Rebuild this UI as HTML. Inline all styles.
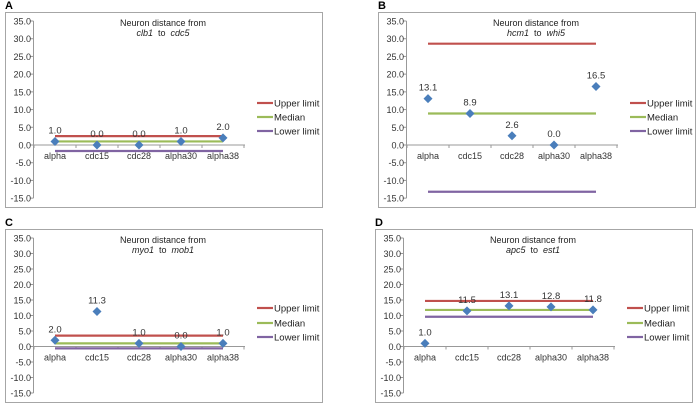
<!DOCTYPE html>
<html><head><meta charset="utf-8"><style>
body{margin:0;background:#fff;width:699px;height:406px;overflow:hidden}
svg{display:block;font-family:"Liberation Sans",sans-serif}
</style></head><body>
<svg id="s" width="699" height="406"></svg>
<script>
const categories=["alpha","cdc15","cdc28","alpha30","alpha38"];
const tickLabels=["35.0","30.0","25.0","20.0","15.0","10.0","5.0","0.0","-5.0","-10.0","-15.0"];
const valuesA=[1.0,0.0,0.0,1.0,2.0];
const valuesB=[13.1,8.9,2.6,0.0,16.5];
const valuesC=[2.0,11.3,1.0,0.0,1.0];
const valuesD=[1.0,11.5,13.1,12.8,11.8];
const limitsA=[2.5,1.0,-1.7];
const limitsB=[28.6,8.9,-13.2];
const limitsC=[3.5,1.0,-0.6];
const limitsD=[14.7,11.8,9.6];
const genesA=["clb1","cdc5"],genesB=["hcm1","whi5"],genesC=["myo1","mob1"],genesD=["apc5","est1"];
const NS="http://www.w3.org/2000/svg";
const svg=document.getElementById('s');
function mk(t,a,p){const e=document.createElementNS(NS,t);for(const k in a)e.setAttribute(k,a[k]);(p||svg).appendChild(e);return e;}
const limColors=["#c0504d","#9bbb59","#8064a2"];
const limNames=["Upper limit","Median","Lower limit"];
function panel(letter,dx,boxTop,boxBot,y35,y0,vals,lims,genes){
  const g=mk('g',{});
  
  
  const unit=(y0-y35)/35;
  const y=v=>y0-v*unit;
  const x=i=>dx+55+i*42;
  const lab=mk('text',{x:dx+5,y:boxTop-3,'font-size':11,'font-weight':'bold',fill:'#000'},g);lab.textContent=letter;
  
  const box=mk('rect',{x:dx+5.5,y:boxTop+0.5,width:317,height:boxBot-boxTop,fill:'none',stroke:'#a6a6a6'},g);
  
  const t1=mk('text',{x:dx+163,y:y35+5,'font-size':9,'text-anchor':'middle',fill:'#222'},g);t1.textContent='Neuron distance from';
  
  const t2=mk('text',{x:dx+163,y:y35+15,'font-size':9,'text-anchor':'middle',fill:'#222'},g);
  t2.innerHTML='<tspan font-style="italic">'+genes[0]+'</tspan>\u00a0\u00a0to\u00a0\u00a0<tspan font-style="italic">'+genes[1]+'</tspan>';
  
  const ax=dx+33.5;
  const ya=mk('line',{x1:ax,x2:ax,y1:y(35),y2:y(-15),stroke:'#999'},g);
  
  tickLabels.forEach(s=>{const v=parseFloat(s);
    mk('line',{x1:ax-3,x2:ax,y1:y(v),y2:y(v),stroke:'#999'},g);
    const t=mk('text',{x:dx+31,y:y(v)+3.5,'font-size':9,'text-anchor':'end',fill:'#333'},g);t.textContent=s;
    });
  const xa=mk('line',{x1:ax,x2:dx+245,y1:y(0),y2:y(0),stroke:'#999'},g);
  
  for(let i=0;i<=categories.length;i++){const tx=dx+34+i*42;mk('line',{x1:tx,x2:tx,y1:y(0),y2:y(0)+3,stroke:'#999'},g);}
  categories.forEach((c,i)=>{const t=mk('text',{x:x(i),y:y(0)+14,'font-size':9,'text-anchor':'middle',fill:'#333'},g);t.textContent=c;
    });
  lims.forEach((v,k)=>{const l=mk('line',{x1:x(0),x2:x(4),y1:y(v),y2:y(v),stroke:limColors[k],'stroke-width':2.2},g);
    });
  vals.forEach((v,i)=>{const px=x(i),py=y(v);
    const d=mk('path',{d:`M${px} ${py-4.5}L${px+4.5} ${py}L${px} ${py+4.5}L${px-4.5} ${py}Z`,fill:'#4a7ebb'},g);
    
    const t=mk('text',{x:px,y:py-8,'font-size':9.5,'text-anchor':'middle',fill:'#333'},g);t.textContent=v.toFixed(1);
    });
  const ly=boxTop<100?[103,117,131]:[308,323,337];
  limNames.forEach((n,k)=>{
    mk('line',{x1:dx+257,x2:dx+273,y1:ly[k],y2:ly[k],stroke:limColors[k],'stroke-width':2.2},g);
    const t=mk('text',{x:dx+274,y:ly[k]+3.5,'font-size':9.5,fill:'#222'},g);t.textContent=n;
    });
}
panel('A',0,12,207,21,145,valuesA,limitsA,genesA);
panel('B',373,12,207,21,145,valuesB,limitsB,genesB);
panel('C',0,229,402,238,346.5,valuesC,limitsC,genesC);
panel('D',370,229,402,238,346.5,valuesD,limitsD,genesD);
</script>
</body></html>
